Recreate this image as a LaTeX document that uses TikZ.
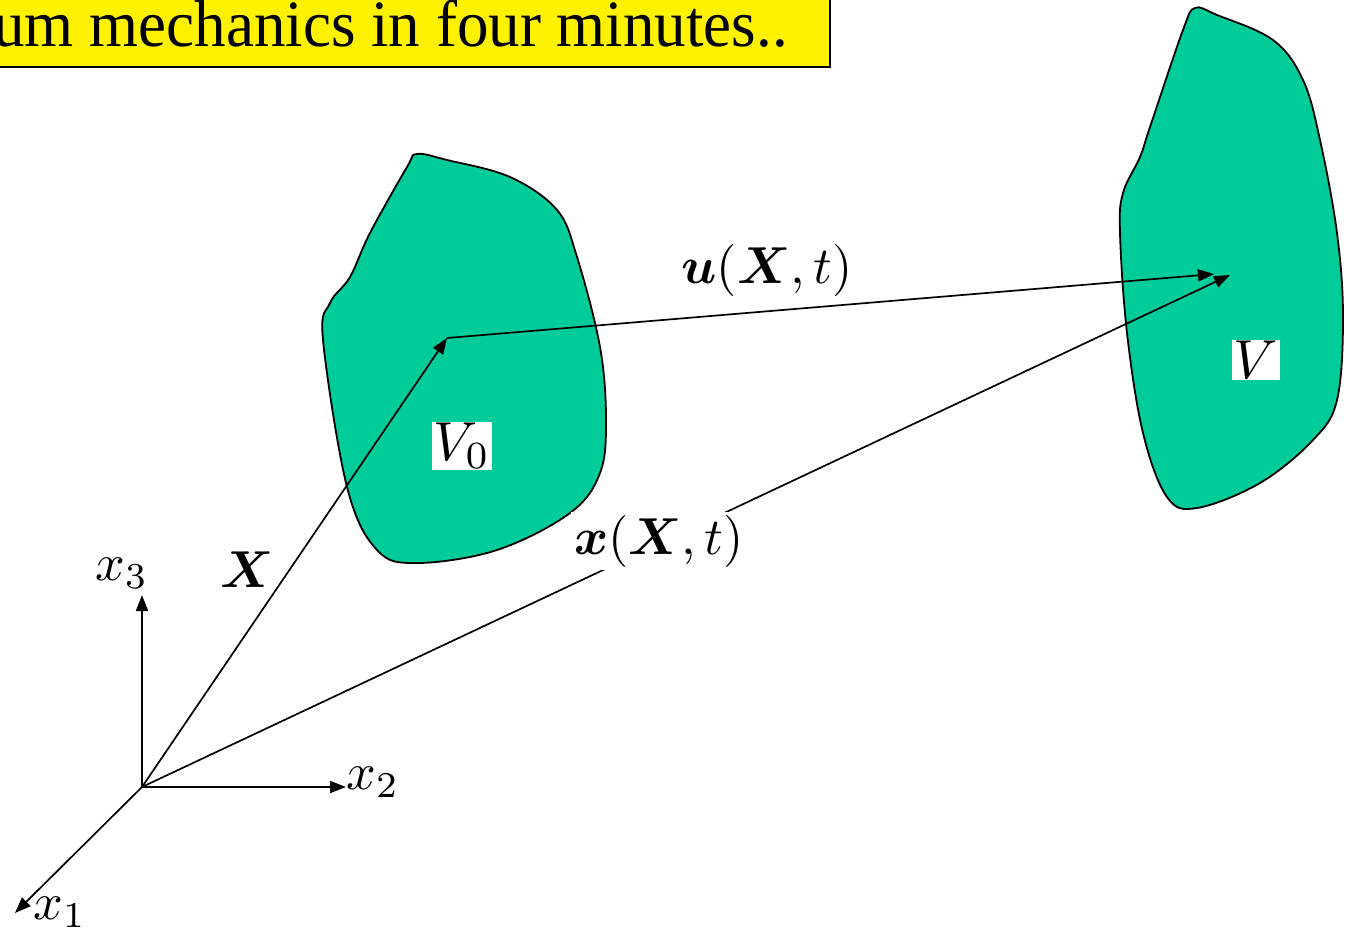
\documentclass[tikz,border=0pt]{standalone}
\usepackage{amsmath,bm}
\usepackage{fontspec}
\newfontfamily\titlefont{Liberation Serif}
\usetikzlibrary{arrows.meta}
\definecolor{blob}{HTML}{00CC99}
\newcommand{\mylabmath}[1]{\scalebox{5.2}{$#1$}}
\newcommand{\myvolmath}[1]{\scalebox{5.5}{$#1$}}
\tikzset{
  vec/.style={line width=1.7pt,-{Triangle[length=16pt,width=12pt]}},
  body/.style={fill=blob,draw=black,line width=1.8pt},
  lab/.style={inner sep=0pt},
  vlab/.style={fill=white,inner sep=1.5pt}
}
\begin{document}
\begin{tikzpicture}[x=1pt,y=-1pt]
\useasboundingbox (0,0) rectangle (1353,935);
% title
\path[fill=yellow,draw=black,line width=1.4pt] (-5,-5) rectangle (830,67);
\node[anchor=base east,inner sep=0pt,font=\titlefont\fontsize{63}{70}\selectfont] (title) at (788,46) {\scalebox{1}[1.05]{um mechanics in four minutes..}};
% bodies
\draw[body] plot[smooth cycle,tension=0.6] coordinates {
 (417,154) (447,160) (510,177) (557,210) (577,257) (600,347) (606,420) (600,473)
 (570,513) (497,550) (417,563) (377,550) (347,487) (323,340) (330,303) (350,277)
 (370,233) (407,167)};
\draw[body] plot[smooth cycle,tension=0.6] coordinates {
 (1195,8) (1217,15) (1273,40) (1303,80) (1320,140) (1337,233) (1343,317) (1337,400)
 (1313,440) (1260,483) (1197,508) (1167,497) (1143,433) (1127,333) (1120,233)
 (1123,193) (1140,157) (1150,127) (1183,30)};
% coordinates
\coordinate (O) at (142,787);
\coordinate (e3) at (142,595);
\coordinate (e2) at (346,787);
\coordinate (e1) at (15,913);
\coordinate (P) at (447,338);
\coordinate (Pu) at (1214,274);
\coordinate (Px) at (1230,275);
% axes
\draw[vec] (O) -- (e3);
\draw[vec] (O) -- (e2);
\draw[vec] (O) -- (e1);
% vectors
\draw[vec] (O) -- (P);
\draw[vec] (P) -- (Pu);
\draw[vec] (O) -- (Px);
% labels
\node[lab] (l3) at (122,573) {\mylabmath{x_3}};
\node[lab] (l2) at (373,782) {\mylabmath{x_2}};
\node[lab] (l1) at (60,912) {\mylabmath{x_1}};
\node[lab] (lX) at (247,570) {\mylabmath{\bm{X}}};
\node[lab] (lu) at (767,270) {\mylabmath{\bm{u}(\bm{X},t)}};
\node[lab,fill=white,inner sep=3pt] (lx) at (659,541) {\mylabmath{\bm{x}(\bm{X},t)}};
\node[vlab] (V0) at (462,446) {\myvolmath{V_0}};
\node[vlab] (V) at (1256,360) {\myvolmath{V}};
\end{tikzpicture}
\end{document}
